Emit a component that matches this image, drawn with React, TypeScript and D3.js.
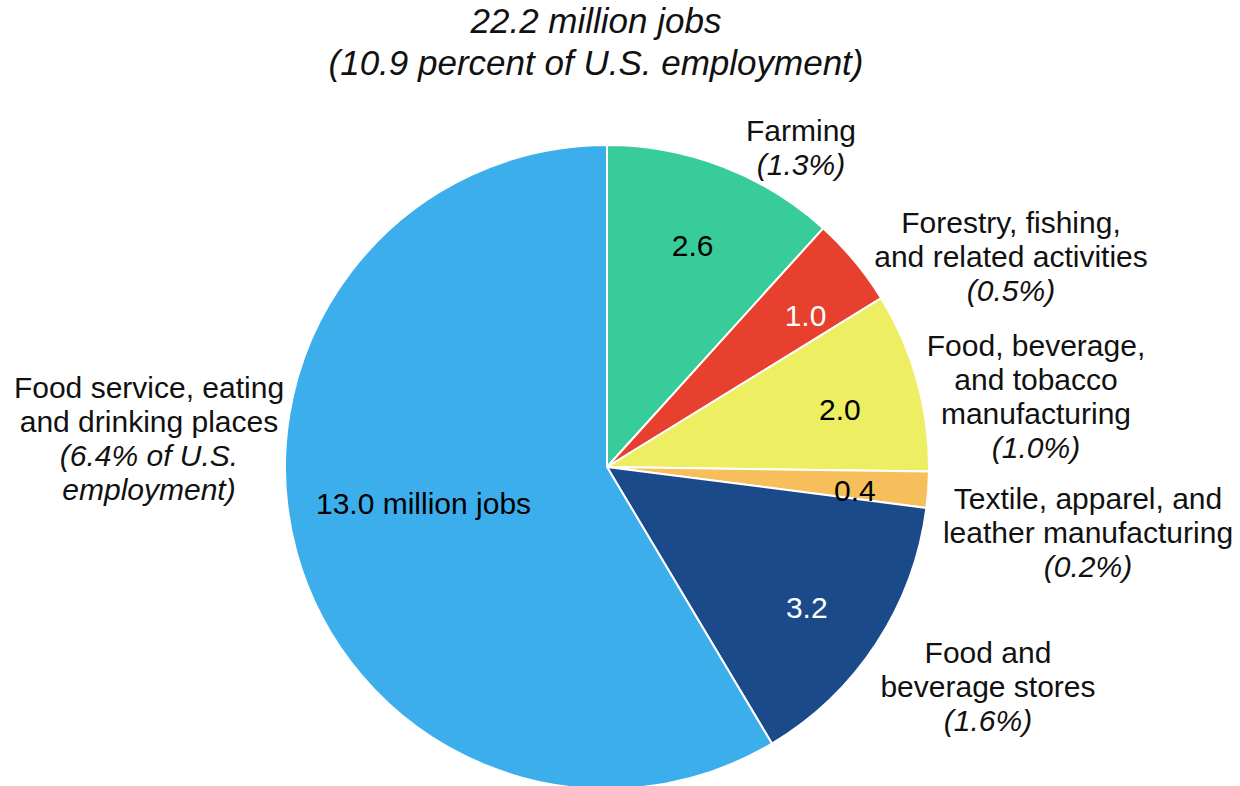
import React from "react";
import * as d3 from "d3";

const categories = [
  "Farming",
  "Forestry, fishing, and related activities",
  "Food, beverage, and tobacco manufacturing",
  "Textile, apparel, and leather manufacturing",
  "Food and beverage stores",
  "Food service, eating and drinking places",
];
const jobs = [2.6, 1.0, 2.0, 0.4, 3.2, 13.0];
const valueLabels = ["2.6", "1.0", "2.0", "0.4", "3.2", "13.0 million jobs"];
const shareLabels = ["(1.3%)", "(0.5%)", "(1.0%)", "(0.2%)", "(1.6%)", "(6.4% of U.S.|employment)"];
const nameLines = [
  ["Farming"],
  ["Forestry, fishing,", "and related activities"],
  ["Food, beverage,", "and tobacco", "manufacturing"],
  ["Textile, apparel, and", "leather manufacturing"],
  ["Food and", "beverage stores"],
  ["Food service, eating", "and drinking places"],
];
const titleLines = ["22.2 million jobs", "(10.9 percent of U.S. employment)"];

const colors = ["#37CC9A", "#E8402F", "#EEEE62", "#F7BF5B", "#1B4A8B", "#3DAEEC"];
const valueColors = ["#000", "#fff", "#000", "#000", "#fff", "#000"];
// layout (not data)
const labelRadius = [238, 250, 240, 249, 244, 187];
const labelAngleShift = [0, 2.3, 1.4, 1.2, 1.8, 4.3];
const outerLabelPos = [
  { x: 801, y: 141 },
  { x: 1011, y: 233 },
  { x: 1036, y: 356 },
  { x: 1088, y: 509 },
  { x: 988, y: 663 },
  { x: 149, y: 398 },
];

const W = 1240;
const H = 786;
const cx = 607;
const cy = 467;
const R = 322;
const LH = 34;
const FS = 30;
const FONT = "'Liberation Sans', Arial, sans-serif";

export default function App() {
  const pie = d3.pie<number>().sort(null).value((d) => d)(jobs);
  const arc = d3.arc<d3.PieArcDatum<number>>().innerRadius(0).outerRadius(R);

  return (
    <svg
      width={W}
      height={H}
      style={{ position: "absolute", left: 0, top: 0, background: "#fff" }}
      fontFamily={FONT}
    >
      <g>
        {titleLines.map((t, i) => (
          <text key={i} x={596} y={33 + i * 42} textAnchor="middle" fontSize={35} fontStyle="italic" fill="#111">
            {t}
          </text>
        ))}
      </g>
      <g transform={`translate(${cx},${cy})`}>
        {pie.map((p, i) => (
          <path key={i} d={arc(p) || ""} fill={colors[i]} stroke="#fff" strokeWidth={2} />
        ))}
        {pie.map((p, i) => {
          const a = (p.startAngle + p.endAngle) / 2 + (labelAngleShift[i] * Math.PI) / 180;
          const r = labelRadius[i];
          const x = Math.sin(a) * r;
          const y = -Math.cos(a) * r;
          return (
            <text key={i} x={x} y={y} dy="0.36em" textAnchor="middle" fontSize={FS} fill={valueColors[i]}>
              {valueLabels[i]}
            </text>
          );
        })}
      </g>
      <g>
        {categories.map((c, i) => {
          const pos = outerLabelPos[i];
          const lines = nameLines[i];
          const shares = shareLabels[i].split("|");
          return (
            <g key={c}>
              {lines.map((l, j) => (
                <text key={j} x={pos.x} y={pos.y + j * LH} textAnchor="middle" fontSize={FS} fill="#111">
                  {l}
                </text>
              ))}
              {shares.map((s, j) => (
                <text
                  key={"s" + j}
                  x={pos.x}
                  y={pos.y + (lines.length + j) * LH}
                  textAnchor="middle"
                  fontSize={FS}
                  fontStyle="italic"
                  fill="#111"
                >
                  {s}
                </text>
              ))}
            </g>
          );
        })}
      </g>
    </svg>
  );
}
